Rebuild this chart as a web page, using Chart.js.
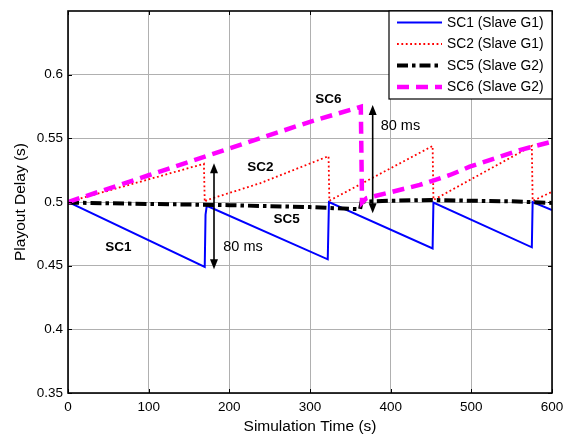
<!DOCTYPE html>
<html>
<head>
<meta charset="utf-8">
<script src="https://cdn.jsdelivr.net/npm/chart.js@4.4.1/dist/chart.umd.min.js"></script>
<style>
  html, body { margin: 0; padding: 0; background: #fff; }
  canvas { display: block; }
</style>
</head>
<body>
<canvas id="chart" width="563" height="436"></canvas>
<script>
// Playout delay of each slave controller over the simulation run
const seriesLabels = ['SC1 (Slave G1)', 'SC2 (Slave G1)', 'SC5 (Slave G2)', 'SC6 (Slave G2)'];

const sc1Time  = [0, 169.5, 170.5, 172, 322, 323.5, 452, 453, 575, 576, 600];
const sc1Delay = [0.5, 0.449, 0.49, 0.497, 0.455, 0.5, 0.4636, 0.4995, 0.4644, 0.5, 0.4937];

const sc2Time  = [0, 168.5, 169.5, 172, 238, 323, 324, 452, 453, 575, 576, 600];
const sc2Delay = [0.5, 0.530, 0.5, 0.5015, 0.5147, 0.536, 0.501, 0.544, 0.5016, 0.544, 0.5008, 0.508];

const sc5Time  = [0, 100, 200, 300, 362, 364, 400, 450, 500, 550, 600];
const sc5Delay = [0.4995, 0.4985, 0.4975, 0.496, 0.4943, 0.5002, 0.501, 0.5016, 0.501, 0.5005, 0.4993];

const sc6Time  = [0, 100, 200, 300, 363, 364.5, 370, 436, 473.5, 498, 560, 600];
const sc6Delay = [0.5, 0.521, 0.542, 0.563, 0.5748, 0.4995, 0.503, 0.5134, 0.5212, 0.5277, 0.5408, 0.5474];

const xTickValues = [0, 100, 200, 300, 400, 500, 600];
const yTickValues = [0.35, 0.4, 0.45, 0.5, 0.55, 0.6];

// Text notes placed in data coordinates (time, delay)
const curveNotes = [
  { text: 'SC1', t: 62.4,  d: 0.4644 },
  { text: 'SC2', t: 238.6, d: 0.5273 },
  { text: 'SC5', t: 271,   d: 0.4864 },
  { text: 'SC6', t: 322.7, d: 0.5807 }
];
const gapNotes = [
  { text: '80 ms', t: 192.5, d: 0.4649 },
  { text: '80 ms', t: 387.6, d: 0.5597 }
];
// Double-headed arrows marking the 80 ms spread
const gapArrows = [
  { t: 181,   from: 0.4472, to: 0.5304 },
  { t: 377.7, from: 0.4911, to: 0.5762 }
];

const FONT = '"Liberation Sans", Arial, Helvetica, sans-serif';

function pairs(ts, ds) { return ts.map((t, i) => ({ x: t, y: ds[i] })); }

const framePlugin = {
  id: 'frameAndNotes',
  afterDatasetsDraw(chart) {
    const { ctx, chartArea: a, scales: { x, y } } = chart;
    ctx.save();
    // inward tick marks on all four sides
    ctx.strokeStyle = '#000';
    ctx.lineWidth = 1;
    const tl = 4;
    ctx.beginPath();
    xTickValues.forEach(v => {
      const px = Math.round(x.getPixelForValue(v)) + 0.5;
      ctx.moveTo(px, a.bottom); ctx.lineTo(px, a.bottom - tl);
      ctx.moveTo(px, a.top); ctx.lineTo(px, a.top + tl);
    });
    yTickValues.forEach(v => {
      const py = Math.round(y.getPixelForValue(v)) + 0.5;
      ctx.moveTo(a.left, py); ctx.lineTo(a.left + tl, py);
      ctx.moveTo(a.right, py); ctx.lineTo(a.right - tl, py);
    });
    ctx.stroke();
    // axes box
    ctx.lineWidth = 1.6;
    ctx.strokeRect(a.left, a.top, a.right - a.left, a.bottom - a.top);

    // arrows
    ctx.fillStyle = '#000';
    ctx.lineWidth = 1.6;
    gapArrows.forEach(ar => {
      const px = x.getPixelForValue(ar.t);
      const y1 = y.getPixelForValue(ar.from);
      const y2 = y.getPixelForValue(ar.to);
      const head = 10, hw = 4;
      ctx.beginPath();
      ctx.moveTo(px, y1 - head + 1); ctx.lineTo(px, y2 + head - 1);
      ctx.stroke();
      ctx.beginPath();
      ctx.moveTo(px, y2); ctx.lineTo(px - hw, y2 + head); ctx.lineTo(px + hw, y2 + head); ctx.closePath();
      ctx.fill();
      ctx.beginPath();
      ctx.moveTo(px, y1); ctx.lineTo(px - hw, y1 - head); ctx.lineTo(px + hw, y1 - head); ctx.closePath();
      ctx.fill();
    });

    // curve names
    ctx.textBaseline = 'middle';
    ctx.textAlign = 'center';
    ctx.font = 'bold 13.5px ' + FONT;
    curveNotes.forEach(n => {
      ctx.fillText(n.text, x.getPixelForValue(n.t), y.getPixelForValue(n.d));
    });
    ctx.textAlign = 'left';
    ctx.font = '14.5px ' + FONT;
    gapNotes.forEach(n => {
      ctx.fillText(n.text, x.getPixelForValue(n.t), y.getPixelForValue(n.d));
    });

    // legend box in the upper right corner
    const boxW = 163, boxH = 88;
    const bx = a.right - boxW, by = a.top;
    ctx.fillStyle = '#fff';
    ctx.fillRect(bx, by, boxW, boxH);
    ctx.strokeStyle = '#000';
    ctx.lineWidth = 1.2;
    ctx.strokeRect(bx, by, boxW, boxH);
    ctx.font = '13.8px ' + FONT;
    ctx.textAlign = 'left';
    ctx.textBaseline = 'middle';
    chart.data.datasets.forEach((ds, i) => {
      const ry = by + 11.5 + i * 21.5;
      ctx.save();
      ctx.strokeStyle = ds.borderColor;
      ctx.lineWidth = ds.borderWidth;
      ctx.setLineDash(ds.borderDash || []);
      ctx.lineCap = 'butt';
      ctx.beginPath();
      ctx.moveTo(bx + 8, ry); ctx.lineTo(bx + 53, ry);
      ctx.stroke();
      ctx.restore();
      ctx.fillStyle = '#000';
      ctx.fillText(ds.label, bx + 58, ry + 0.5);
    });
    ctx.restore();
  }
};

const whiteBg = {
  id: 'whiteBg',
  beforeDraw(chart) {
    const { ctx, width, height } = chart;
    ctx.save();
    ctx.fillStyle = '#fff';
    ctx.fillRect(0, 0, width, height);
    ctx.restore();
  }
};

function lineSet(label, ts, ds, color, width, dash, order) {
  return {
    label, data: pairs(ts, ds),
    borderColor: color, backgroundColor: color,
    borderWidth: width, borderDash: dash,
    pointRadius: 0, tension: 0, fill: false, order
  };
}

new Chart(document.getElementById('chart'), {
  type: 'line',
  data: {
    datasets: [
      lineSet(seriesLabels[0], sc1Time, sc1Delay, '#0000ff', 2, [], 4),
      lineSet(seriesLabels[1], sc2Time, sc2Delay, '#ff0000', 1.8, [1.8, 2.6], 3),
      lineSet(seriesLabels[2], sc5Time, sc5Delay, '#000000', 4, [11, 4, 3.5, 4], 2),
      lineSet(seriesLabels[3], sc6Time, sc6Delay, '#ff00ff', 4.5, [12, 7], 1)
    ]
  },
  options: {
    responsive: false,
    animation: false,
    devicePixelRatio: 1,
    layout: { padding: { left: 0, right: 11, top: 11, bottom: 0 } },
    plugins: { legend: { display: false }, tooltip: { enabled: false } },
    scales: {
      x: {
        type: 'linear', min: 0, max: 600,
        afterBuildTicks: s => { s.ticks = xTickValues.map(v => ({ value: v })); },
        afterFit: s => { s.height = 43; s.paddingLeft = 0; s.paddingRight = 0; },
        ticks: { color: '#000', font: { family: FONT, size: 13.5 }, padding: 6, maxRotation: 0, autoSkip: false },
        grid: { color: '#b0b0b0', lineWidth: 1, drawTicks: false },
        border: { display: false },
        title: { display: true, text: 'Simulation Time (s)', color: '#000',
                 font: { family: FONT, size: 15.5 }, padding: { top: 0, bottom: 0 } }
      },
      y: {
        type: 'linear', min: 0.35, max: 0.65,
        afterBuildTicks: s => { s.ticks = yTickValues.map(v => ({ value: v })); },
        afterFit: s => { s.width = 68; s.paddingTop = 0; s.paddingBottom = 0; },
        ticks: { color: '#000', font: { family: FONT, size: 13.5 }, padding: 5,
                 callback: v => String(Number(v.toFixed(2))) },
        grid: { color: '#b0b0b0', lineWidth: 1, drawTicks: false },
        border: { display: false },
        title: { display: true, text: 'Playout Delay (s)', color: '#000',
                 font: { family: FONT, size: 15.5 }, padding: { top: 11, bottom: 0 } }
      }
    }
  },
  plugins: [whiteBg, framePlugin]
});
</script>
</body>
</html>
